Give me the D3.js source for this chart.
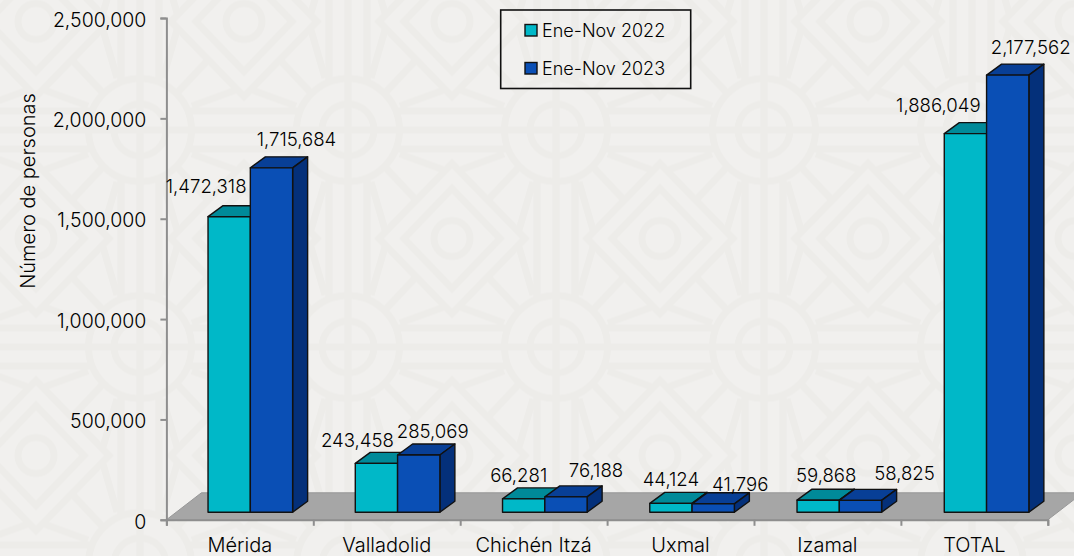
<!DOCTYPE html>
<html>
<head>
<meta charset="utf-8">
<script src="https://cdn.jsdelivr.net/npm/d3@7"></script>
<style>
    html, body { margin: 0; padding: 0; background: #f1f0ee; overflow: hidden; }
    svg { display: block; }
    text { font-family: Inter, Lato, sans-serif; font-weight: 300; fill: #000; }
</style>
</head>
<body>
<div class="sh"></div>
<script>
var categories = ["Mérida", "Valladolid", "Chichén Itzá", "Uxmal", "Izamal", "TOTAL"];
var seriesNames = ["Ene-Nov 2022", "Ene-Nov 2023"];
var values2022 = [1472318, 243458, 66281, 44124, 59868, 1886049];
var values2023 = [1715684, 285069, 76188, 41796, 58825, 2177562];
var yTicks = [0, 500000, 1000000, 1500000, 2000000, 2500000];

var width = 1074, height = 556;
var frontColors = ["#00b8c8", "#0a4fb5"],
    topColors = ["#008a99", "#083f96"],
    sideColors = ["#006c78", "#04307a"];

var svg = d3.select(".sh").append("svg")
    .attr("width", width)
    .attr("height", height);

// Background tile: circle at the centre, diamonds on the corners
var tileW = 208, tileH = 217;
var pattern = svg.append("defs").append("pattern")
    .attr("id", "tile")
    .attr("patternUnits", "userSpaceOnUse")
    .attr("x", 140 - tileW / 2).attr("y", 130 - tileH / 2)
    .attr("width", tileW).attr("height", tileH);

var tile = pattern.append("g")
    .attr("transform", "translate(" + tileW / 2 + "," + tileH / 2 + ")")
    .attr("fill", "none").attr("stroke", "#edece9").attr("stroke-width", 7);

tile.append("circle").attr("r", 51.5);
tile.append("circle").attr("r", 26);

[[1, 1], [-1, 1], [1, -1], [-1, -1]].forEach(function (m) {
    var q = tile.append("g").attr("transform", "scale(" + m[0] + "," + m[1] + ")");
    var hw = tileW / 2, hh = tileH / 2;
    q.append("path").attr("d", "M0,0H" + hw + "M0,0V" + hh);
    q.append("path").attr("d", "M50,19H" + hw + "M50,-19H" + hw + "M19,50V" + hh + "M-19,50V" + hh);
    q.append("path").attr("d", "M37,37L68,70M23,52L37,100M52,24L96,40");
    q.append("path").attr("d", d3.range(2).map(function (i) {
        var a = [73, 48][i], b = [75, 50][i];
        return "M" + (hw - a) + "," + hh + "L" + hw + "," + (hh - b) + "L" + (hw + a) + "," + hh +
            "L" + hw + "," + (hh + b) + "Z";
    }).join(""));
    q.append("circle").attr("cx", hw).attr("cy", hh).attr("r", 18);
});

svg.append("rect")
    .attr("width", width).attr("height", height)
    .attr("fill", "#f1f0ee");
svg.append("rect")
    .attr("width", width).attr("height", height)
    .attr("fill", "url(#tile)");

// Scales
var y = d3.scaleLinear().domain([0, 2500000]).range([519.8, 18]);
var edge = d3.scaleLinear().domain([0, categories.length]).range([166.4, 1047.8]);

// Depth of the 3D floor and of the bars standing on it
var floorDx = 35, floorDy = 27,
    planeDy = 7.6,
    depthDx = 15, depthDy = 11;

var x0 = d3.scaleBand().domain(categories)
    .range([176.7, 1060.2])
    .paddingInner(0.4255).paddingOuter(0.2128);
var x1 = d3.scaleBand().domain([0, 1]).range([0, x0.bandwidth()]);

// Floor
var base = y(0);
svg.append("polygon")
    .attr("points", [
        [edge(0), base],
        [edge(categories.length), base],
        [edge(categories.length) + floorDx, base - floorDy],
        [edge(0) + floorDx, base - floorDy]
    ].join(" "))
    .attr("fill", "#a6a6a6")
    .attr("stroke", "#979797")
    .attr("stroke-width", 1);

// Axes
var yAxis = svg.append("g")
    .attr("transform", "translate(" + edge(0) + ",0)")
    .call(d3.axisLeft(y).tickValues(yTicks).tickSize(6).tickPadding(14).tickFormat(d3.format(",")));
yAxis.selectAll("text").style("font-size", "19.5px").attr("dy", "0.42em");

var xAxis = svg.append("g")
    .attr("transform", "translate(0," + base + ")")
    .call(d3.axisBottom(edge).tickValues(d3.range(categories.length + 1)).tickSize(6).tickFormat(""));

svg.selectAll(".domain, .tick line")
    .attr("stroke", "#8e8e8e")
    .attr("stroke-width", 2);

var xLabels = d3.scaleBand().domain(categories).range([edge(0), edge(categories.length)]);
var labelAxis = svg.append("g")
    .attr("transform", "translate(0,538)")
    .call(d3.axisBottom(xLabels).tickSize(0).tickPadding(0));
labelAxis.select(".domain").remove();
labelAxis.selectAll("text").style("font-size", "20px");

svg.append("text")
    .attr("transform", "translate(28,191) rotate(-90)")
    .attr("text-anchor", "middle")
    .attr("dominant-baseline", "central")
    .style("font-size", "20px")
    .text("Número de personas");

// Bars
var series = [values2022, values2023];
var groundY = base - planeDy;

series.forEach(function (vals, s) {
    var bars = svg.append("g").selectAll("g")
        .data(vals)
        .enter().append("g")
        .attr("stroke", "#111")
        .attr("stroke-width", 1.4)
        .attr("stroke-linejoin", "round");

    function geom(d, i) {
        var l = x0(categories[i]) + x1(s);
        return { l: l, r: l + x1.bandwidth(), t: y(d) - planeDy };
    }

    // side face only shows on the last series, the next bar hides the rest
    bars.append("polygon")
        .attr("fill", topColors[s])
        .attr("points", function (d, i) {
            var g = geom(d, i);
            return [[g.l, g.t], [g.r, g.t], [g.r + depthDx, g.t - depthDy], [g.l + depthDx, g.t - depthDy]].join(" ");
        });
    bars.append("polygon")
        .attr("fill", sideColors[s])
        .attr("points", function (d, i) {
            var g = geom(d, i);
            return [[g.r, g.t], [g.r + depthDx, g.t - depthDy], [g.r + depthDx, groundY - depthDy], [g.r, groundY]].join(" ");
        });
    bars.append("polygon")
        .attr("fill", frontColors[s])
        .attr("points", function (d, i) {
            var g = geom(d, i);
            return [[g.l, g.t], [g.r, g.t], [g.r, groundY], [g.l, groundY]].join(" ");
        });
});

// Value labels sit where the original author dragged them: shift from bar centre / bar top
var labelShift = [
    [[-23, -31], [25, -29]],
    [[-19, -23], [14, -24]],
    [[-5, -24], [30, -27]],
    [[0, -24], [27, -20]],
    [[8, -25], [44, -27]],
    [[-27, -29], [23, -28]]
];

series.forEach(function (vals, s) {
    svg.append("g").selectAll("text")
        .data(vals)
        .enter().append("text")
        .attr("x", function (d, i) { return x0(categories[i]) + x1(s) + x1.bandwidth() / 2 + labelShift[i][s][0]; })
        .attr("y", function (d, i) { return y(d) - planeDy + labelShift[i][s][1]; })
        .attr("text-anchor", "middle")
        .attr("dominant-baseline", "central")
        .style("font-size", "18.6px")
        .text(d3.format(","));
});

// Legend
var legend = svg.append("g");
legend.append("rect")
    .attr("x", 500.7).attr("y", 10)
    .attr("width", 190).attr("height", 78.5)
    .attr("fill", "none")
    .attr("stroke", "#111")
    .attr("stroke-width", 1.6);

var legendY = d3.scalePoint().domain(seriesNames).range([30, 68]);
var items = legend.selectAll("g.item")
    .data(seriesNames)
    .enter().append("g")
    .attr("class", "item")
    .attr("transform", function (d) { return "translate(525," + legendY(d) + ")"; });
items.append("rect")
    .attr("y", -5.5)
    .attr("width", 12).attr("height", 11.5)
    .attr("fill", function (d, i) { return frontColors[i]; })
    .attr("stroke", "#111")
    .attr("stroke-width", 1.4);
items.append("text")
    .attr("x", 17)
    .attr("dominant-baseline", "central")
    .style("font-size", "18px")
    .text(function (d) { return d; });
</script>
</body>
</html>
